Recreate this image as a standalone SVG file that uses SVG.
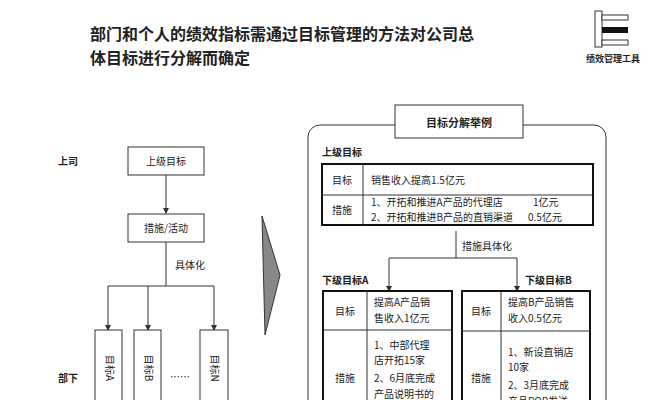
<svg xmlns="http://www.w3.org/2000/svg" width="667" height="400" viewBox="0 0 667 400">
<style>
text{font-family:"Noto Sans CJK SC","Liberation Serif",serif;fill:#222}
.b{font-weight:bold}
.s{font-size:10px}
.box{fill:#fff;stroke:#333;stroke-width:1}
.tb{fill:#fff;stroke:#111;stroke-width:2}
.ln{stroke:#333;stroke-width:1;fill:none}
</style>
<defs><marker id="ar" markerWidth="6" markerHeight="6" refX="5" refY="3" orient="auto"><path d="M0,0 L6,3 L0,6z" fill="#333"/></marker></defs>
<rect width="667" height="400" fill="#fff"/>
<g id="title"><text x="90" y="40" class="b" font-size="16">部门和个人的绩效指标需通过目标管理的方法对公司总</text>
<text x="90" y="64" class="b" font-size="16">体目标进行分解而确定</text></g>
<g id="logo"><rect x="595" y="11" width="7" height="36" fill="#fff" stroke="#333"/>
<rect x="602" y="15" width="26" height="5" fill="#fff" stroke="#333"/>
<rect x="602" y="27" width="26" height="6" fill="#111"/>
<rect x="602" y="40" width="26" height="5" fill="#fff" stroke="#333"/>
<text x="613" y="62" class="b" font-size="9" text-anchor="middle">绩效管理工具</text></g>
<g id="left-labels"><text x="58" y="165" class="b s">上司</text><text x="58" y="382" class="b s">部下</text></g>
<g id="connectors">
<line x1="166" y1="175" x2="166" y2="213" class="ln" marker-end="url(#ar)"/>
<polyline points="166,242 166,286" class="ln"/>
<polyline points="108,286 214,286" class="ln"/>
<line x1="108" y1="286" x2="108" y2="330" class="ln" marker-end="url(#ar)"/>
<line x1="148" y1="286" x2="148" y2="330" class="ln" marker-end="url(#ar)"/>
<line x1="214" y1="286" x2="214" y2="330" class="ln" marker-end="url(#ar)"/>
<line x1="456" y1="231" x2="456" y2="258" class="ln"/>
<polyline points="389,258 517,258" class="ln"/>
<line x1="389" y1="258" x2="389" y2="291" class="ln" marker-end="url(#ar)"/>
<line x1="517" y1="258" x2="517" y2="291" class="ln" marker-end="url(#ar)"/>
</g>
<text x="175" y="269" class="s">具体化</text>
<text x="462" y="250" class="s">措施具体化</text>
<g id="n-top"><rect x="128" y="147" width="76" height="28" class="box"/><text x="166" y="165" class="s" text-anchor="middle">上级目标</text></g>
<g id="n-act"><rect x="128" y="214" width="76" height="28" class="box"/><text x="166" y="232" class="s" text-anchor="middle">措施/活动</text></g>
<g id="n-a"><rect x="95" y="330" width="27" height="80" class="box"/><text transform="translate(106,368) rotate(90)" class="s" font-size="9" text-anchor="middle">目标A</text></g>
<g id="n-b"><rect x="134" y="330" width="27" height="80" class="box"/><text transform="translate(145,368) rotate(90)" class="s" font-size="9" text-anchor="middle">目标B</text></g>
<text x="180" y="381" class="s" text-anchor="middle">……</text>
<g id="n-n"><rect x="200" y="330" width="28" height="80" class="box"/><text transform="translate(211,368) rotate(90)" class="s" font-size="9" text-anchor="middle">目标N</text></g>
<g id="arrow"><polygon points="262,216 280,275 265,335" fill="#888" stroke="#333"/></g>
<g id="panel"><rect x="308" y="125" width="298" height="300" rx="12" fill="none" stroke="#333"/>
<rect x="395" y="105" width="128" height="33" class="box"/><text x="459" y="127" class="b" font-size="11" text-anchor="middle">目标分解举例</text></g>
<text x="322" y="156" class="b s">上级目标</text>
<g id="t-top"><rect x="322" y="164" width="271" height="61" class="tb"/>
<line x1="363" y1="164" x2="363" y2="225" class="ln"/><line x1="322" y1="195" x2="593" y2="195" class="ln"/>
<text x="342" y="184" class="s" text-anchor="middle">目标</text><text x="342" y="214" class="s" text-anchor="middle">措施</text>
<text x="371" y="184" class="s">销售收入提高1.5亿元</text>
<text x="371" y="206" class="s">1、开拓和推进A产品的代理店</text><text x="533" y="206" class="s">1亿元</text>
<text x="371" y="221" class="s">2、开拓和推进B产品的直销渠道</text><text x="528" y="221" class="s">0.5亿元</text></g>
<text x="322" y="284" class="b s">下级目标A</text><text x="525" y="284" class="b s">下级目标B</text>
<g id="t-a"><rect x="323" y="291" width="129" height="130" class="tb"/>
<line x1="367" y1="291" x2="367" y2="421" class="ln"/><line x1="323" y1="330" x2="452" y2="330" class="ln"/>
<text x="345" y="315" class="s" text-anchor="middle">目标</text><text x="345" y="382" class="s" text-anchor="middle">措施</text>
<text x="374" y="306" class="s">提高A产品销</text><text x="374" y="322" class="s">售收入1亿元</text>
<text x="374" y="349" class="s">1、中部代理</text><text x="374" y="364" class="s">店开拓15家</text>
<text x="374" y="382" class="s">2、6月底完成</text><text x="374" y="398" class="s">产品说明书的</text></g>
<g id="t-b"><rect x="462" y="291" width="128" height="130" class="tb"/>
<line x1="501" y1="291" x2="501" y2="421" class="ln"/><line x1="462" y1="331" x2="590" y2="331" class="ln"/>
<text x="481" y="315" class="s" text-anchor="middle">目标</text><text x="481" y="382" class="s" text-anchor="middle">措施</text>
<text x="508" y="306" class="s">提高B产品销售</text><text x="508" y="322" class="s">收入0.5亿元</text>
<text x="508" y="356" class="s">1、新设直销店</text><text x="508" y="371" class="s">10家</text>
<text x="508" y="389" class="s">2、3月底完成</text><text x="508" y="405" class="s">产品POP发送</text></g>
</svg>
